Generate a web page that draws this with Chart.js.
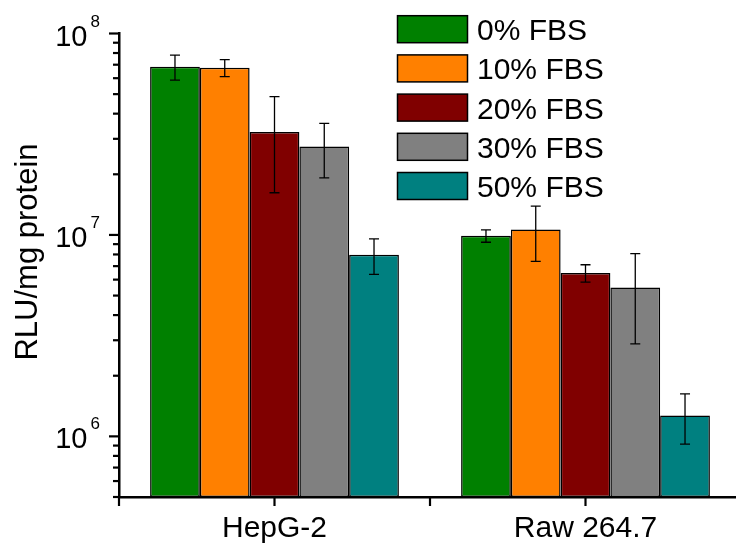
<!DOCTYPE html>
<html>
<head>
<meta charset="utf-8">
<script src="https://cdn.jsdelivr.net/npm/chart.js@4.4.1/dist/chart.umd.min.js"></script>
<style>
html, body { margin: 0; padding: 0; overflow: hidden; background: #fff; }
#wrap { width: 760px; height: 545px; }
</style>
</head>
<body>
<div id="wrap"><canvas id="fbsChart" width="760" height="545"></canvas></div>
<script>
var cellLines = ['HepG-2', 'Raw 264.7'];
var serumLabels = ['0% FBS', '10% FBS', '20% FBS', '30% FBS', '50% FBS'];
var serumColors = ['#008000', '#ff8000', '#800000', '#808080', '#008080'];

// RLU/mg protein (mean and SD) per serum level, [HepG-2, Raw 264.7]
var fbs0 = [6.84e7, 9.9e6];
var fbs0Sd = [0.97e7, 0.7e6];
var fbs10 = [6.76e7, 1.064e7];
var fbs10Sd = [0.65e7, 3.25e6];
var fbs20 = [3.24e7, 6.47e6];
var fbs20Sd = [1.62e7, 0.64e6];
var fbs30 = [2.75e7, 5.48e6];
var fbs30Sd = [0.83e7, 2.6e6];
var fbs50 = [7.97e6, 1.27e6];
var fbs50Sd = [1.6e6, 0.355e6];

var yMin = 5e5, yMax = 1e8;
var decades = [6, 7, 8];

var seriesMeans = [fbs0, fbs10, fbs20, fbs30, fbs50];
var seriesSd = [fbs0Sd, fbs10Sd, fbs20Sd, fbs30Sd, fbs50Sd];

var FONT = '"Liberation Sans", Arial, sans-serif';

var datasets = serumLabels.map(function(lbl, i) {
  return {
    label: lbl,
    data: seriesMeans[i],
    sd: seriesSd[i],
    backgroundColor: serumColors[i],
    borderColor: '#000',
    borderWidth: 1.5,
    borderSkipped: false,
    categoryPercentage: 0.8,
    barPercentage: 1.0
  };
});

var decorPlugin = {
  id: 'decor',
  afterDatasetsDraw: function(chart) {
    var ctx = chart.ctx, ys = chart.scales.y;
    ctx.save();
    ctx.strokeStyle = '#000';
    ctx.lineWidth = 1.3;
    chart.data.datasets.forEach(function(ds, di) {
      chart.getDatasetMeta(di).data.forEach(function(bar, i) {
        var hi = ys.getPixelForValue(ds.data[i] + ds.sd[i]);
        var lo = ys.getPixelForValue(ds.data[i] - ds.sd[i]);
        ctx.beginPath();
        ctx.moveTo(bar.x, hi); ctx.lineTo(bar.x, lo);
        ctx.moveTo(bar.x - 5, hi); ctx.lineTo(bar.x + 5, hi);
        ctx.moveTo(bar.x - 5, lo); ctx.lineTo(bar.x + 5, lo);
        ctx.stroke();
      });
    });
    ctx.restore();
  },
  afterDraw: function(chart) {
    var ctx = chart.ctx, ys = chart.scales.y, xs = chart.scales.x;
    var area = chart.chartArea;
    ctx.save();
    ctx.strokeStyle = '#000';
    ctx.fillStyle = '#000';
    ctx.lineWidth = 2.2;

    // y ticks: major at decades, minor at 2..9
    for (var e = 5; e <= 8; e++) {
      for (var k = 1; k <= 9; k++) {
        var v = k * Math.pow(10, e);
        if (v < yMin || v > yMax) continue;
        var py = ys.getPixelForValue(v);
        var len = (k === 1) ? 10 : 6;
        ctx.beginPath();
        ctx.moveTo(area.left - len, py);
        ctx.lineTo(area.left, py);
        ctx.stroke();
      }
    }

    // x ticks
    var c0 = xs.getPixelForValue(0), c1 = xs.getPixelForValue(1);
    [area.left, c0, (c0 + c1) / 2, c1].forEach(function(px) {
      ctx.beginPath();
      ctx.moveTo(px, area.bottom);
      ctx.lineTo(px, area.bottom + 9);
      ctx.stroke();
    });

    // y tick labels 10^n
    decades.forEach(function(n) {
      var py = ys.getPixelForValue(Math.pow(10, n));
      ctx.font = '29px ' + FONT;
      ctx.textAlign = 'right';
      ctx.textBaseline = 'alphabetic';
      ctx.fillText('10', 87.5, py + 12);
      ctx.font = '17px ' + FONT;
      ctx.textAlign = 'left';
      ctx.fillText(String(n), 90.5, py - 7);
    });

    // y axis title
    ctx.save();
    ctx.translate(37, 252);
    ctx.rotate(-Math.PI / 2);
    ctx.font = '31px ' + FONT;
    ctx.textAlign = 'center';
    ctx.textBaseline = 'alphabetic';
    ctx.fillText('RLU/mg protein', 0, 0);
    ctx.restore();

    // legend
    ctx.font = '30px ' + FONT;
    ctx.textAlign = 'left';
    ctx.textBaseline = 'alphabetic';
    ctx.lineWidth = 1.5;
    chart.data.datasets.forEach(function(ds, i) {
      var top = 15.7 + i * 39.2;
      ctx.fillStyle = ds.backgroundColor;
      ctx.fillRect(397.5, top, 70, 27);
      ctx.strokeRect(397.5, top, 70, 27);
      ctx.fillStyle = '#000';
      ctx.fillText(ds.label, 477, top + 24.5);
    });
    ctx.restore();
  }
};

new Chart(document.getElementById('fbsChart'), {
  type: 'bar',
  data: { labels: cellLines, datasets: datasets },
  plugins: [decorPlugin],
  options: {
    responsive: false,
    animation: false,
    devicePixelRatio: 1,
    layout: { padding: { left: 0, top: 33.5, right: 19, bottom: 0 } },
    plugins: {
      legend: { display: false },
      tooltip: { enabled: false }
    },
    scales: {
      x: {
        type: 'category',
        offset: true,
        grid: { display: false },
        border: { display: true, color: '#000', width: 2.5 },
        ticks: { color: '#000', font: { family: FONT, size: 30 }, padding: 6, maxRotation: 0 },
        afterFit: function(s) { s.height = 48; }
      },
      y: {
        type: 'logarithmic',
        min: yMin,
        max: yMax,
        grid: { display: false },
        border: { display: true, color: '#000', width: 2.5 },
        ticks: { display: false },
        afterFit: function(s) { s.width = 119; }
      }
    }
  }
});
</script>
</body>
</html>
